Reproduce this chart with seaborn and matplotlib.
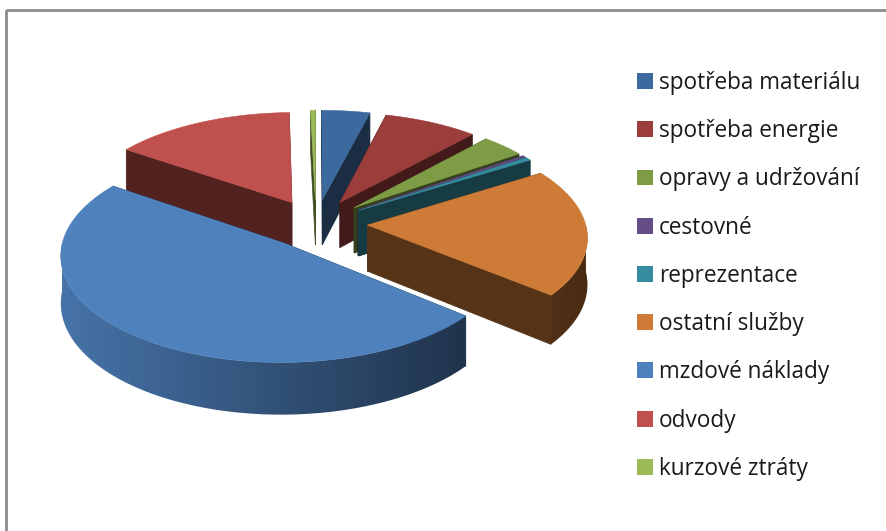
import numpy as np
import matplotlib
matplotlib.use("Agg")
import matplotlib.pyplot as plt
import seaborn as sns
from matplotlib.patches import Polygon, Patch, Rectangle
from matplotlib.colors import to_rgb

# ---------------- data ----------------
categories = ["spotřeba materiálu", "spotřeba energie", "opravy a udržování",
              "cestovné", "reprezentace", "ostatní služby", "mzdové náklady",
              "odvody", "kurzové ztráty"]
values = [4.0, 7.8, 3.6, 0.3, 0.5, 19.9, 48.8, 15.1, 0.4]
colors = ["#3D6A9E", "#9A3D3B", "#7E9B45", "#654D86", "#378DA0",
          "#CE7B37", "#4F81BD", "#C0504D", "#9BBB59"]

sns.set_theme(style="white")
plt.rcParams["font.family"] = ["Open Sans", "DejaVu Sans"]
palette = sns.color_palette(colors)

W, H = 887, 531
fig = plt.figure(figsize=(W / 100, H / 100), dpi=100)
ax = fig.add_axes([0, 0, 1, 1])
ax.set_xlim(0, W)
ax.set_ylim(H, 0)
ax.axis("off")

# ---------------- 3D pie geometry ----------------
CX, CY = 316, 223.5    # centre of the pie (screen)
RX, RY = 218, 103      # radii
P = 0.10               # perspective strength
DEPTH = 46             # thickness
EXPL = 0.236           # explosion (fraction of radius)


def proj(u, v, z):
    s = 1.0 / (1.0 + P * v)
    return CX + RX * u * s, CY - RY * v * s + DEPTH * z * s


def shade(c, f):
    r, g, b = to_rgb(c)
    return (min(r * f, 1), min(g * f, 1), min(b * f, 1))


vals = np.array(values, dtype=float)
frac = vals / vals.sum()
cum = np.concatenate([[0], np.cumsum(frac)])
slices = []
for i in range(len(vals)):
    t1 = np.deg2rad(90 - cum[i] * 360)      # start (clockwise)
    t2 = np.deg2rad(90 - cum[i + 1] * 360)  # end
    m = 0.5 * (t1 + t2)
    slices.append((i, t1, t2, m))

# back-to-front order
order = sorted(slices, key=lambda s: -np.sin(s[3]))

for i, t1, t2, m in order:
    col = palette[i]
    du, dv = EXPL * np.cos(m), EXPL * np.sin(m)
    n = max(6, int(abs(t1 - t2) / (2 * np.pi) * 600))
    th = np.linspace(t1, t2, n)

    def pt(r, t, z):
        return proj(du + r * np.cos(t), dv + r * np.sin(t), z)

    apex_t = pt(0, 0, 0)
    apex_b = pt(0, 0, 1)
    face_col = shade(col, 0.42)
    # radial faces
    for t in (t1, t2):
        poly = [apex_t, pt(1, t, 0), pt(1, t, 1), apex_b]
        ax.add_patch(Polygon(poly, closed=True, facecolor=face_col,
                             edgecolor=face_col, lw=0.5, zorder=1))
    # outer wall (visible front part) with horizontal light gradient
    vis = th[np.sin(th) < 0.0]
    if len(vis) >= 2:
        poly = [pt(1, t, 0) for t in vis] + [pt(1, t, 1) for t in vis[::-1]]
        xs = [p[0] for p in poly]
        ys = [p[1] for p in poly]
        x0, x1 = min(xs) - 1, max(xs) + 1
        y0, y1 = min(ys) - 1, max(ys) + 1
        gx = np.linspace(x0, x1, 300)
        f = 0.62 - 0.28 * (gx - apex_t[0]) / (RX * 1.05)
        f = np.clip(f, 0.3, 0.95)
        img = np.array([[shade(col, fv) for fv in f]])
        patch = Polygon(poly, closed=True, facecolor="none", edgecolor="none")
        ax.add_patch(patch)
        im = ax.imshow(img, extent=(x0, x1, y1, y0), aspect="auto",
                       interpolation="bilinear", zorder=1)
        im.set_clip_path(patch)
    # top surface
    top = [apex_t] + [pt(1, t, 0) for t in th]
    ax.add_patch(Polygon(top, closed=True, facecolor=col,
                         edgecolor=col, lw=0.4, zorder=1))

ax.set_xlim(0, W)
ax.set_ylim(H, 0)

# ---------------- frame ----------------
ax.add_patch(Rectangle((6, 10), W + 20, H + 20, fill=False,
                       edgecolor="#8C8C8C", lw=2, zorder=5, clip_on=False))

# ---------------- legend ----------------
handles = [Patch(facecolor=palette[i], edgecolor="none") for i in range(len(categories))]
leg = fig.legend(handles, categories, loc="upper left",
                 bbox_to_anchor=(637 / W, 1 - 71 / H), frameon=False,
                 fontsize=16.3, handlelength=0.7, handleheight=0.7,
                 handletextpad=0.28, labelspacing=1.07, borderpad=0,
                 borderaxespad=0)
for t in leg.get_texts():
    t.set_color("#1A1A1A")

fig.savefig("out.png", dpi=100)
